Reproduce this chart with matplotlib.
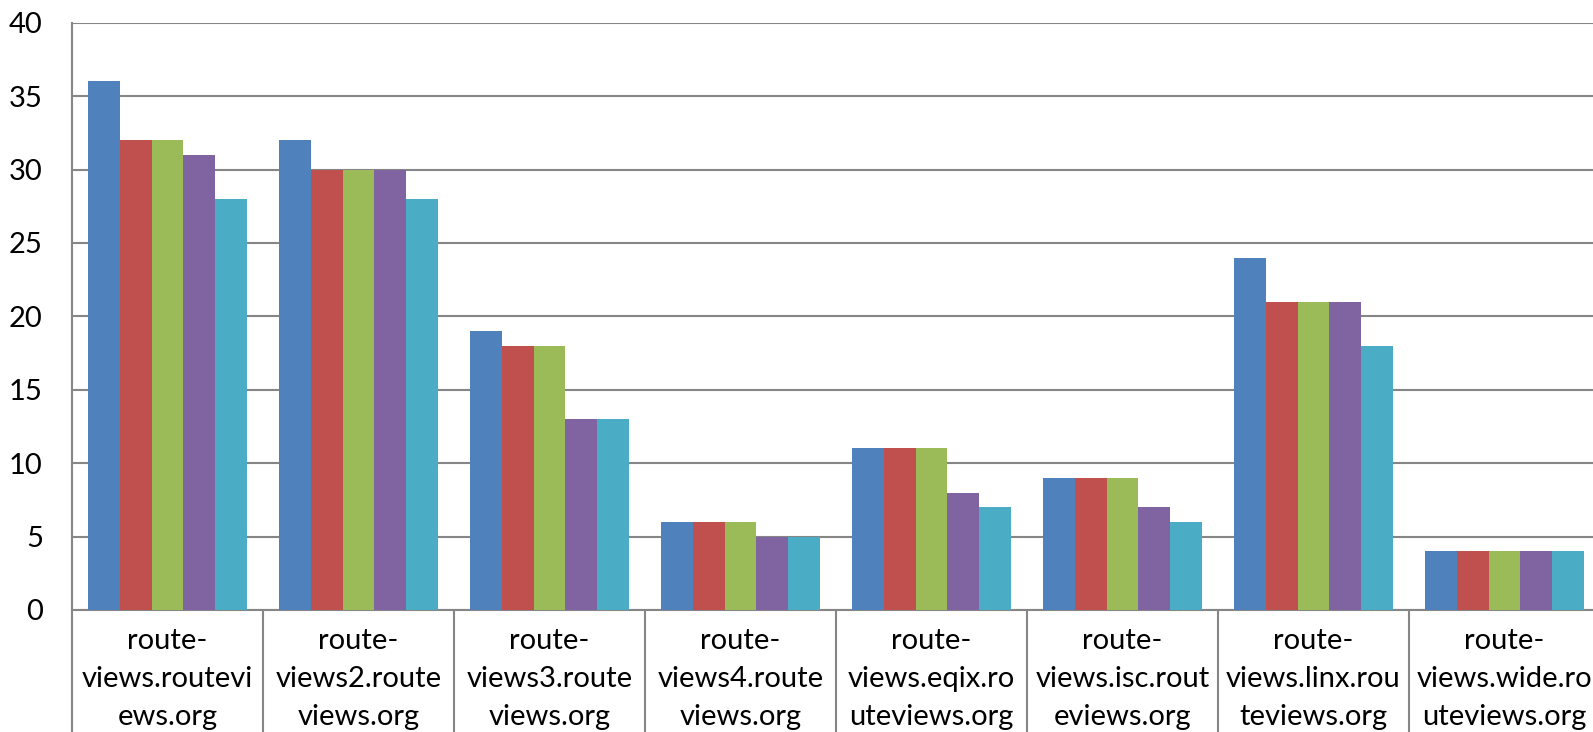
import matplotlib
matplotlib.use('Agg')
import matplotlib.pyplot as plt
import numpy as np

plt.rcParams['font.family'] = ['Lato', 'DejaVu Sans']

categories = ['route-\nviews.routevi\news.org',
              'route-\nviews2.route\nviews.org',
              'route-\nviews3.route\nviews.org',
              'route-\nviews4.route\nviews.org',
              'route-\nviews.eqix.ro\nuteviews.org',
              'route-\nviews.isc.rout\neviews.org',
              'route-\nviews.linx.rou\nteviews.org',
              'route-\nviews.wide.ro\nuteviews.org']

s1 = [36, 32, 19, 6, 11, 9, 24, 4]
s2 = [32, 30, 18, 6, 11, 9, 21, 4]
s3 = [32, 30, 18, 6, 11, 9, 21, 4]
s4 = [31, 30, 13, 5, 8, 7, 21, 4]
s5 = [28, 28, 13, 5, 7, 6, 18, 4]
series = [s1, s2, s3, s4, s5]
colors = ['#4F81BD', '#C0504D', '#9BBB59', '#8064A2', '#4BACC6']

fig = plt.figure(figsize=(15.93, 7.32), dpi=100)
ax = fig.add_axes([72/1593, 122/732, 1528/1593, (610-22.7)/732])

x = np.arange(len(categories))
w = 0.1675
for j, vals in enumerate(series):
    ax.bar(x + (j - 2) * w, vals, width=w, color=colors[j], zorder=3)

ax.set_xlim(-0.5, len(categories) - 0.5)
ax.set_ylim(0, 40)
ax.set_yticks(range(0, 41, 5))
ax.yaxis.grid(True, color='#868686', linewidth=1.5, zorder=0)
ax.tick_params(axis='y', length=0, pad=21, labelsize=21)

ax.set_xticks(x)
ax.set_xticklabels(categories, fontsize=21, linespacing=1.57)
ax.tick_params(axis='x', length=0, pad=13)

for s in ['top', 'right']:
    ax.spines[s].set_visible(False)
ax.spines['left'].set_color('#868686')
ax.spines['left'].set_linewidth(1.5)
ax.spines['bottom'].set_color('#868686')
ax.spines['bottom'].set_linewidth(1.5)

# category separators below the axis
ax.vlines(np.arange(len(categories) + 1) - 0.5, -0.3, 0,
          transform=ax.get_xaxis_transform(), color='#868686',
          linewidth=1.5, clip_on=False)

fig.savefig('out.png', dpi=100)
